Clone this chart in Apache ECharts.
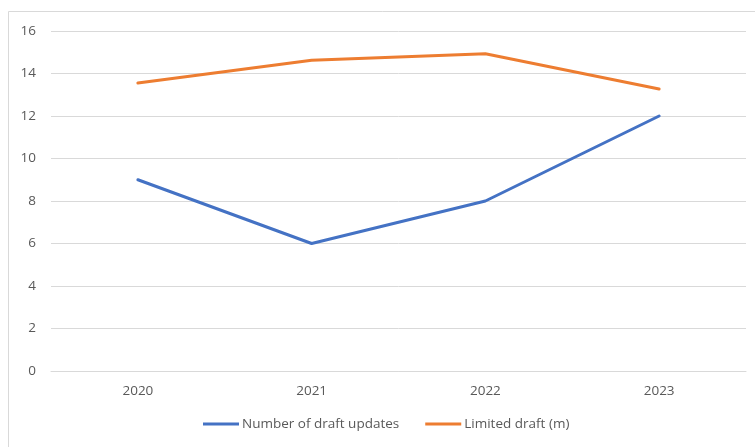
<!DOCTYPE html>
<html>
<head>
<meta charset="utf-8">
<script src="https://cdn.jsdelivr.net/npm/echarts@6/dist/echarts.min.js"></script>
<style>
  html, body { margin: 0; padding: 0; background: #ffffff; }
  #chart { width: 755px; height: 447px; }
</style>
</head>
<body>
<div id="chart"></div>
<script>
// Yearly draft figures
var years = ['2020', '2021', '2022', '2023'];
var draftUpdates = [9, 6, 8, 12];
var limitedDraft = [13.55, 14.62, 14.93, 13.27];
var seriesNames = ['Number of draft updates', 'Limited draft (m)'];

var FONT = '"Open Sans", "Liberation Sans", sans-serif';
var TEXT = '#595959';
var GRID = '#d9d9d9';

var chart = echarts.init(document.getElementById('chart'), null, { renderer: 'canvas' });

chart.setOption({
  backgroundColor: '#ffffff',
  animation: false,
  graphic: [{
    type: 'rect',
    silent: true,
    shape: { x: 8.5, y: 11.5, width: 800, height: 500 },
    style: { fill: 'none', stroke: GRID, lineWidth: 1 }
  }],
  grid: { left: 51, right: 9, top: 31, bottom: 76 },
  legend: {
    top: 417,
    left: 203,
    itemWidth: 36,
    itemHeight: 3,
    itemGap: 26,
    padding: 0,
    icon: 'rect',
    textStyle: { color: TEXT, fontFamily: FONT, fontSize: 13.5, padding: [0, 0, 0, -2] },
    data: seriesNames
  },
  xAxis: {
    type: 'category',
    data: years,
    boundaryGap: true,
    axisLine: { show: true, lineStyle: { color: GRID, width: 1 } },
    axisTick: { show: false },
    axisLabel: { color: TEXT, fontFamily: FONT, fontSize: 13.5, margin: 13 }
  },
  yAxis: {
    type: 'value',
    min: 0,
    max: 16,
    interval: 2,
    axisLine: { show: false },
    axisTick: { show: false },
    splitLine: { lineStyle: { color: GRID, width: 1 } },
    axisLabel: { color: TEXT, fontFamily: FONT, fontSize: 13.5, margin: 15 }
  },
  series: [
    {
      name: seriesNames[0],
      type: 'line',
      data: draftUpdates,
      symbol: 'none',
      color: '#4472C4',
      lineStyle: { width: 3, color: '#4472C4', cap: 'round' }
    },
    {
      name: seriesNames[1],
      type: 'line',
      data: limitedDraft,
      symbol: 'none',
      color: '#ED7D31',
      lineStyle: { width: 3, color: '#ED7D31', cap: 'round' }
    }
  ]
});
</script>
</body>
</html>
